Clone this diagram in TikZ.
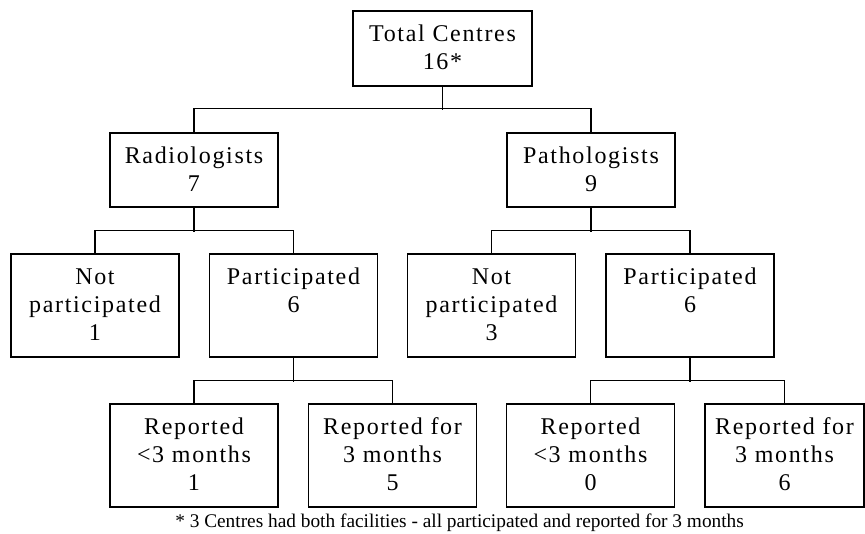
\documentclass[tikz,border=0pt]{standalone}
\usepackage{fontspec}
\setmainfont{Liberation Serif}
\newfontfamily\boxfont[LetterSpace=7]{Liberation Serif}
\newcommand\btext[2]{\parbox[c][#1][t]{118pt}{\centering\vspace*{7.8pt}\strut #2}}
\tikzset{
  box/.style={draw, line width=0.8pt, inner sep=0pt, minimum width=126pt,
    font=\boxfont\fontsize{18}{21}\selectfont},
  link/.style={line width=0.8pt},
  note/.style={inner sep=0pt, font=\fontsize{14.5}{16}\selectfont}
}
\begin{document}
\begin{tikzpicture}[x=0.75pt, y=-0.75pt]
\useasboundingbox (0,0) rectangle (865,533);
% level 1
\node[box, minimum width=134.25pt] (top) at (442.5,48.5) {\btext{56.25pt}{Total Centres\\16*}};
% level 2
\node[box] (rad) at (194,170) {\btext{55.5pt}{Radiologists\\7}};
\node[box] (pat) at (591,170) {\btext{55.5pt}{Pathologists\\9}};
% level 3
\node[box] (npl) at (95,305.5)   {\btext{77.25pt}{Not\\participated\\1}};
\node[box] (pl)  at (293.5,305.5) {\btext{77.25pt}{Participated\\6}};
\node[box] (npr) at (491.5,305.5) {\btext{77.25pt}{Not\\participated\\3}};
\node[box] (pr)  at (690,305.5)   {\btext{77.25pt}{Participated\\6}};
% level 4
\node[box] (rl1) at (194,455.5)   {\btext{77.25pt}{Reported\\<3 months\\1}};
\node[box] (rl2) at (392.5,455.5) {\btext{77.25pt}{Reported for\\3 months\\5}};
\node[box] (rr1) at (590.5,455.5) {\btext{77.25pt}{Reported\\<3 months\\0}};
\node[box, minimum width=119.25pt] (rr2) at (784.5,455.5) {\btext{77.25pt}{Reported for\\3 months\\6}};
% connectors
\draw[link] (top.south) -- ++(0,23);
\draw[link] (rad.north) -- ++(0,-24) -| (pat.north);
\draw[link] (rad.south) -- ++(0,24);
\draw[link] (npl.north) -- ++(0,-23) -| (pl.north);
\draw[link] (pat.south) -- ++(0,24);
\draw[link] (npr.north) -- ++(0,-23) -| (pr.north);
\draw[link] (pl.south) -- ++(0,24);
\draw[link] (rl1.north) -- ++(0,-23) -| (rl2.north);
\draw[link] (pr.south) -- ++(0,24);
\draw[link] (rr1.north) -- ++(0,-23) -| (rr2.north);
% footnote
\node[note, anchor=base west] (fn) at (175,527.5) {* 3 Centres had both facilities - all participated and reported for 3 months};
\end{tikzpicture}
\end{document}
